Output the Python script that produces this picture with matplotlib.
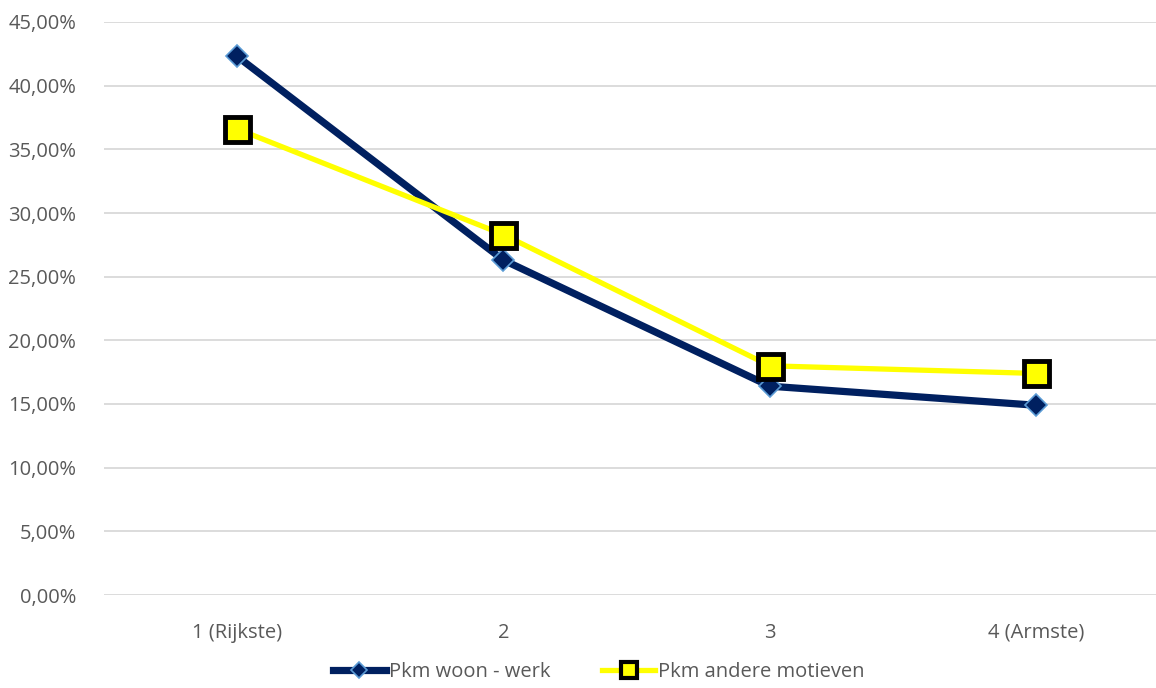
import matplotlib
matplotlib.use("Agg")
import matplotlib.pyplot as plt
from matplotlib.ticker import FuncFormatter, MultipleLocator

categories = ["1 (Rijkste)", "2", "3", "4 (Armste)"]
woon_werk = [42.3, 26.3, 16.4, 14.9]
andere_motieven = [36.6, 28.3, 18.0, 17.4]

plt.rcParams['font.family'] = ['Open Sans', 'DejaVu Sans']
grey = '#595959'

fig = plt.figure(figsize=(11.56, 6.88), dpi=100)
ax = fig.add_axes([104 / 1156, 93 / 688, 1 - 104 / 1156, (595 - 22) / 688])

x = list(range(len(categories)))
ax.plot(x, woon_werk, color='#002060', lw=5.2, marker='D', ms=11,
        mfc='#002060', mec='#5B9BD5', mew=1.2, label='Pkm woon - werk',
        solid_joinstyle='round', zorder=3)
ax.plot(x, andere_motieven, color='#FFFF00', lw=3.8, marker='s', ms=18,
        mfc='#FFFF00', mec='black', mew=3.5, label='Pkm andere motieven',
        zorder=4)

ax.set_ylim(0, 45)
ax.set_xlim(-0.5, 3.45)
ax.yaxis.set_major_locator(MultipleLocator(5))
ax.yaxis.set_major_formatter(FuncFormatter(lambda v, p: f"{v:.2f}%".replace('.', ',')))
ax.set_xticks(x)
ax.set_xticklabels(categories)
ax.grid(axis='y', color='#D9D9D9', lw=1.3)
ax.set_axisbelow(True)
for s in ax.spines.values():
    s.set_visible(False)
ax.tick_params(length=0, labelsize=14.5, colors=grey)
ax.tick_params(axis='y', pad=20)
ax.tick_params(axis='x', pad=20)

leg = fig.legend(loc='lower center', ncol=2, frameon=False, fontsize=14.5,
                 bbox_to_anchor=(0.518, -0.018), handlelength=2.6,
                 handletextpad=0.15, columnspacing=2.6)
for t in leg.get_texts():
    t.set_color(grey)
leg.legend_handles[0].set_markersize(8)
leg.legend_handles[1].set_markersize(11)
leg.legend_handles[1].set_markeredgewidth(3)

fig.savefig("out.png", dpi=100)
